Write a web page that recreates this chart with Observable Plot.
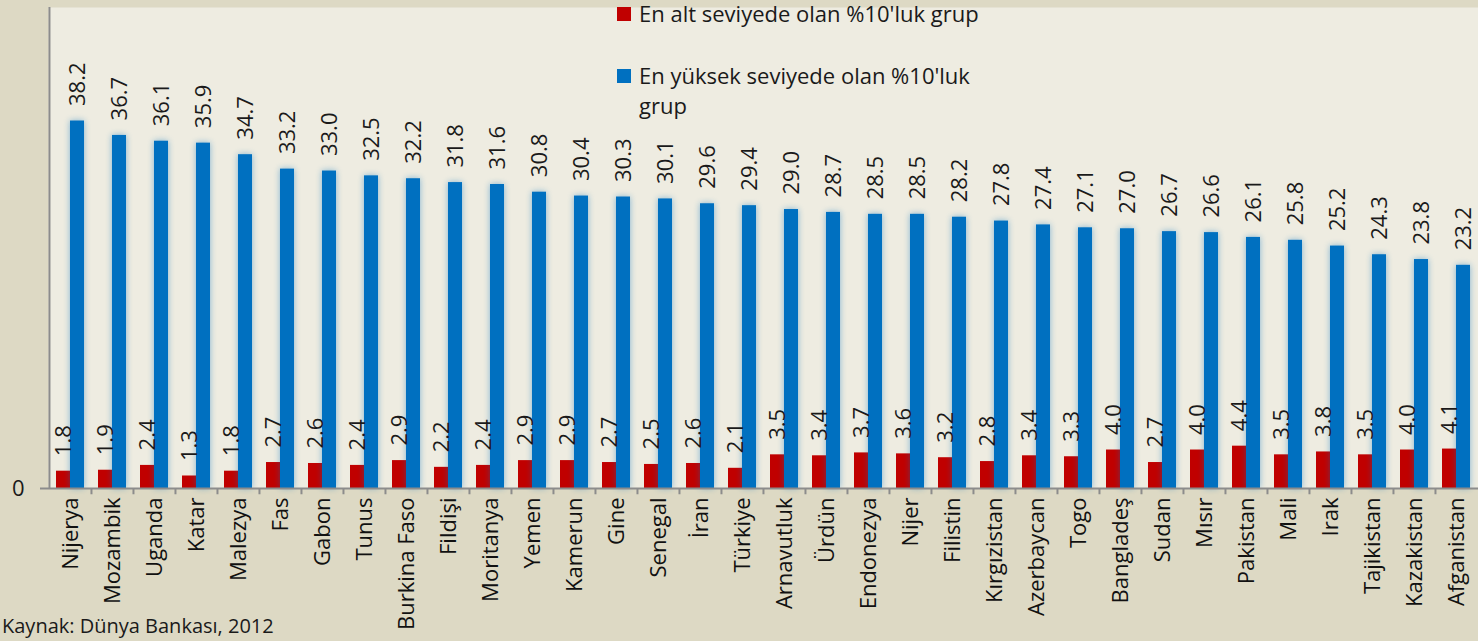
<!DOCTYPE html>
<html>
<head>
<meta charset="utf-8">
<script src="https://cdn.jsdelivr.net/npm/d3@7"></script>
<script src="https://cdn.jsdelivr.net/npm/@observablehq/plot@0.6"></script>
<style>
  html, body { margin: 0; padding: 0; background: #DDD9C4; overflow: hidden; }
  #wrap { position: relative; width: 1478px; height: 641px; font-family: "Open Sans", sans-serif; color: #1a1a1a; }
  #legend { position: absolute; left: 617px; top: -2px; width: 385px; font-size: 22px; line-height: 30px; }
  .item { display: flex; align-items: flex-start; margin-bottom: 32px; }
  .sw { width: 14px; height: 14px; flex: none; margin-top: 9px; margin-right: 8px; }
  #caption { position: absolute; left: 2px; top: 613px; font-size: 20px; line-height: 26px; white-space: nowrap; color: #1a1a1a; }
</style>
</head>
<body>
<div id="wrap">
  <div id="chart"></div>
  <div id="legend"></div>
  <div id="caption"></div>
</div>
<script>
const countries = ["Nijerya","Mozambik","Uganda","Katar","Malezya","Fas","Gabon","Tunus","Burkina Faso","Fildişi","Moritanya","Yemen","Kamerun","Gine","Senegal","İran","Türkiye","Arnavutluk","Ürdün","Endonezya","Nijer","Filistin","Kırgızistan","Azerbaycan","Togo","Bangladeş","Sudan","Mısır","Pakistan","Mali","Irak","Tajikistan","Kazakistan","Afganistan"];
const bottom10 = [1.8,1.9,2.4,1.3,1.8,2.7,2.6,2.4,2.9,2.2,2.4,2.9,2.9,2.7,2.5,2.6,2.1,3.5,3.4,3.7,3.6,3.2,2.8,3.4,3.3,4.0,2.7,4.0,4.4,3.5,3.8,3.5,4.0,4.1];
const top10 = [38.2,36.7,36.1,35.9,34.7,33.2,33.0,32.5,32.2,31.8,31.6,30.8,30.4,30.3,30.1,29.6,29.4,29.0,28.7,28.5,28.5,28.2,27.8,27.4,27.1,27.0,26.7,26.6,26.1,25.8,25.2,24.3,23.8,23.2];
const seriesNames = ["En alt seviyede olan %10'luk grup", "En yüksek seviyede olan %10'luk grup"];
const seriesColors = ["#C00000", "#0070C0"];
const yTicks = [0];
const caption = "Kaynak: Dünya Bankası, 2012";

const low = countries.map((c, i) => ({country: c, value: bottom10[i]}));
const high = countries.map((c, i) => ({country: c, value: top10[i]}));
const axisGray = "#8c8c8c";

const chart = Plot.plot({
  width: 1478,
  height: 641,
  marginLeft: 48,
  marginRight: 0,
  marginTop: 7,
  marginBottom: 153,
  style: {fontFamily: "Open Sans", fontSize: "22px", color: "#1a1a1a", background: "transparent"},
  x: {domain: countries, paddingInner: 1/3, paddingOuter: 1/6, axis: null},
  y: {domain: [0, 50], axis: null},
  marks: [
    Plot.frame({fill: "#EEECE1", stroke: "none"}),
    Plot.barY(low, {x: "country", y: "value", fill: seriesColors[0], insetRight: 14}),
    Plot.barY(high, {x: "country", y: "value", fill: seriesColors[1], insetLeft: 14,
      imageFilter: "drop-shadow(0 0 3px rgba(0,112,192,0.45))"}),
    Plot.ruleY([0], {stroke: axisGray, strokeWidth: 2}),
    Plot.ruleX([countries[0]], {dx: -21.03, stroke: axisGray, strokeWidth: 2}),
    Plot.ruleX(countries.slice(1), {x: d => d, dx: -21.03, y1: 0, y2: -0.65, stroke: axisGray, strokeWidth: 2}),
    Plot.axisY({ticks: yTicks, tickSize: 8, tickPadding: 16, stroke: axisGray, strokeWidth: 2, fontSize: 22, label: null}),
    Plot.text(low, {x: "country", y: "value", text: d => d.value.toFixed(1), rotate: -90, textAnchor: "start", dx: -7, dy: -15, fill: "#1a1a1a", fontSize: 22}),
    Plot.text(high, {x: "country", y: "value", text: d => d.value.toFixed(1), rotate: -90, textAnchor: "start", dx: 7, dy: -15, fill: "#1a1a1a", fontSize: 22}),
    Plot.text(countries, {x: d => d, y: 0, text: d => d, rotate: -90, textAnchor: "end", dy: 9, fill: "#111", fontSize: 22})
  ]
});
document.getElementById("chart").appendChild(chart);

const legend = document.getElementById("legend");
seriesNames.forEach((name, i) => {
  const item = document.createElement("div");
  item.className = "item";
  const sw = document.createElement("div");
  sw.className = "sw";
  sw.style.background = seriesColors[i];
  const t = document.createElement("div");
  t.textContent = name;
  item.appendChild(sw);
  item.appendChild(t);
  legend.appendChild(item);
});
document.getElementById("caption").textContent = caption;
</script>
</body>
</html>
